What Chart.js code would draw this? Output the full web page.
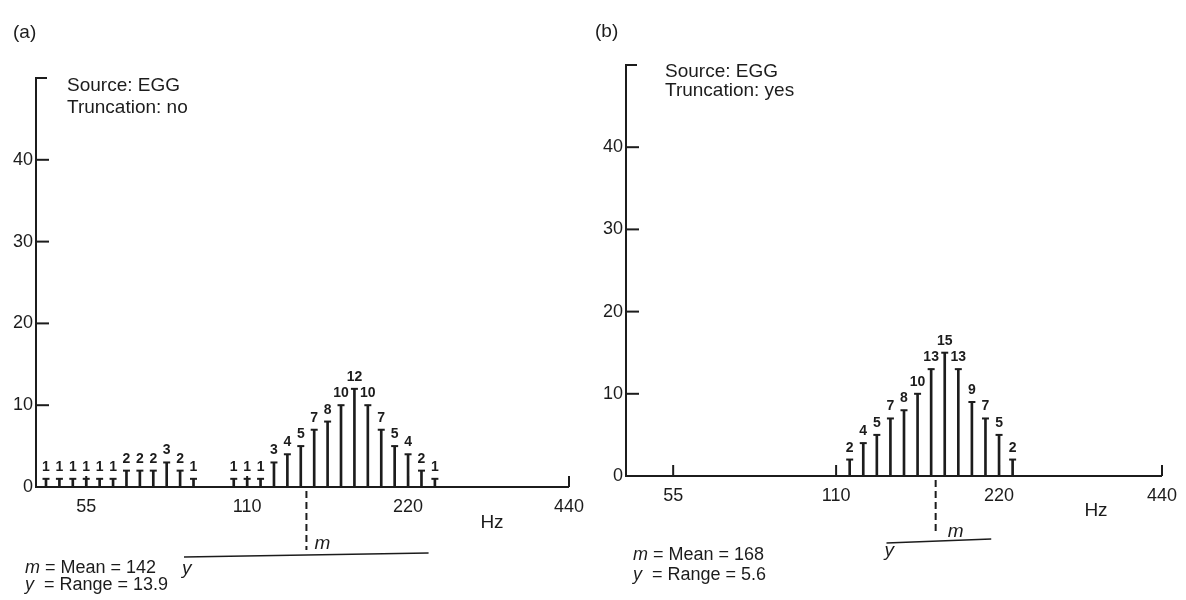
<!DOCTYPE html>
<html>
<head>
<meta charset="utf-8">
<script src="https://cdn.jsdelivr.net/npm/chart.js@4.4.0/dist/chart.umd.min.js"></script>
<style>
  html, body { margin: 0; padding: 0; background: #fff; }
  #wrap { position: relative; width: 1186px; height: 600px; }
  .panel { position: absolute; top: 0; width: 593px; height: 600px; }
  #panel-a { left: 0; }
  #panel-b { left: 593px; }
</style>
</head>
<body>
<div id="wrap">
  <div class="panel" id="panel-a"><canvas id="chart-a" width="593" height="600"></canvas></div>
  <div class="panel" id="panel-b"><canvas id="chart-b" width="593" height="600"></canvas></div>
</div>
<script>
/* ---- data: semitone bins (Hz) and % of samples ---- */
const binsA = [46.25, 49.0, 51.91, 55, 58.27, 61.74, 65.41, 69.3, 73.42, 77.78, 82.41, 87.31,
               103.83, 110, 116.54, 123.47, 130.81, 138.59, 146.83, 155.56, 164.81, 174.61,
               185, 196, 207.65, 220, 233.08, 246.94];
const valuesA = [1, 1, 1, 1, 1, 1, 2, 2, 2, 3, 2, 1,
                 1, 1, 1, 3, 4, 5, 7, 8, 10, 12, 10, 7, 5, 4, 2, 1];

const binsB = [116.54, 123.47, 130.81, 138.59, 146.83, 155.56, 164.81, 174.61,
               185, 196, 207.65, 220, 233.08];
const valuesB = [2, 4, 5, 7, 8, 10, 13, 15, 13, 9, 7, 5, 2];

const yTicks = [0, 10, 20, 30, 40];
const hzTicks = [55, 110, 220, 440];

const meanA = 142, rangeA = 13.9, spanA = [83.8, 240.3];
const meanB = 168, rangeB = 5.6,  spanB = [136.3, 212.8];

const INK = '#1c1c1c';
const FONT = "'Liberation Sans', Arial, Helvetica, sans-serif";

document.addEventListener('DOMContentLoaded', () => {
  makePanel('chart-a', {
    tag: '(a)', truncation: 'no', bins: binsA, values: valuesA,
    mean: meanA, range: rangeA, span: spanA,
    xMin: 44.3, yW: 36, pad: { left: 0, top: 78, right: 17, bottom: 83 },
    txt: { tag: [13, 38], src: [67, 91], trunc: [67, 113], hz: [492, 528],
           mLine: [25, 573], yLine: [25, 590] },
    meanLen: 63, spanDy: 68, mLabel: [8, 62], yLabel: [-2, 87],
  });
  makePanel('chart-b', {
    tag: '(b)', truncation: 'yes', bins: binsB, values: valuesB,
    mean: meanB, range: rangeB, span: spanB,
    xMin: 45.0, yW: 33, pad: { left: 0, top: 65, right: 14, bottom: 94 },
    txt: { tag: [2, 37], src: [72, 77], trunc: [72, 96], hz: [503, 516],
           mLine: [40, 560], yLine: [40, 580] },
    meanLen: 59, spanDy: 65, mLabel: [12, 61], yLabel: [-2, 80],
  });
});

/* ---- one histogram panel ---- */
function makePanel(id, p) {
  const pts = p.bins.map((f, i) => ({ x: f, y: p.values[i] }));

  function line(ctx, x1, y1, x2, y2) {
    ctx.beginPath(); ctx.moveTo(x1, y1); ctx.lineTo(x2, y2); ctx.stroke();
  }

  // axes, inner ticks, value labels, mean / range markers and notes
  const overlay = {
    id: 'overlay',
    afterDatasetsDraw(chart) {
      const { ctx, chartArea: a, scales: { x, y } } = chart;
      const right = x.getPixelForValue(hzTicks[hzTicks.length - 1]);
      ctx.save();
      ctx.strokeStyle = INK;
      ctx.fillStyle = INK;
      ctx.lineWidth = 2;

      ctx.beginPath();
      ctx.moveTo(a.left + 11, a.top);
      ctx.lineTo(a.left, a.top);
      ctx.lineTo(a.left, a.bottom);
      ctx.lineTo(right, a.bottom);
      ctx.stroke();
      yTicks.slice(1).forEach(v => {
        const py = y.getPixelForValue(v);
        line(ctx, a.left, py, a.left + 13, py);
      });
      hzTicks.forEach(v => {
        const px = x.getPixelForValue(v);
        line(ctx, px, a.bottom, px, a.bottom - 11);
      });

      // percentages over the bars
      ctx.font = `bold 14px ${FONT}`;
      ctx.textAlign = 'center';
      ctx.textBaseline = 'alphabetic';
      chart.getDatasetMeta(0).data.forEach((bar, i) => {
        ctx.fillText(String(p.values[i]), bar.x, bar.y - 8);
      });

      // mean marker
      const mx = x.getPixelForValue(p.mean);
      ctx.lineWidth = 2;
      ctx.setLineDash([7, 4]);
      line(ctx, mx, a.bottom + 4, mx, a.bottom + p.meanLen);
      ctx.setLineDash([]);
      ctx.textAlign = 'left';
      ctx.font = `italic 19px ${FONT}`;
      ctx.fillText('m', mx + p.mLabel[0], a.bottom + p.mLabel[1]);

      // range bar
      const x1 = x.getPixelForValue(p.span[0]);
      const x2 = x.getPixelForValue(p.span[1]);
      ctx.lineWidth = 1.6;
      line(ctx, x1, a.bottom + p.spanDy + 2, x2, a.bottom + p.spanDy - 2);
      ctx.fillText('y', x1 + p.yLabel[0], a.bottom + p.yLabel[1]);

      // notes
      const t = p.txt;
      ctx.font = `19px ${FONT}`;
      ctx.fillText(p.tag, t.tag[0], t.tag[1]);
      ctx.fillText('Source: EGG', t.src[0], t.src[1]);
      ctx.fillText('Truncation: ' + p.truncation, t.trunc[0], t.trunc[1]);
      ctx.textAlign = 'center';
      ctx.fillText('Hz', t.hz[0], t.hz[1]);

      ctx.textAlign = 'left';
      const stat = (sym, rest, pos) => {
        ctx.font = `italic 18px ${FONT}`;
        ctx.fillText(sym, pos[0], pos[1]);
        const w = ctx.measureText(sym).width;
        ctx.font = `18px ${FONT}`;
        ctx.fillText(rest, pos[0] + w, pos[1]);
      };
      stat('m', ' = Mean = ' + p.mean, t.mLine);
      stat('y', '  = Range = ' + p.range, t.yLine);
      ctx.restore();
    }
  };

  new Chart(document.getElementById(id), {
    type: 'bar',
    data: {
      datasets: [
        {
          type: 'bar', data: pts, backgroundColor: INK,
          barThickness: 2, borderWidth: 0, order: 2,
        },
        {
          type: 'scatter', data: pts, pointStyle: 'line', pointRadius: 3.5,
          borderColor: INK, borderWidth: 2, showLine: false, order: 1,
        },
      ],
    },
    options: {
      responsive: false,
      animation: false,
      layout: { padding: p.pad },
      plugins: { legend: { display: false }, tooltip: { enabled: false } },
      scales: {
        x: {
          type: 'logarithmic', min: p.xMin, max: 440, offset: false,
          grid: { display: false, drawTicks: false }, border: { display: false },
          afterBuildTicks: s => { s.ticks = hzTicks.map(v => ({ value: v })); },
          afterFit: s => { s.height = 30; },
          ticks: {
            autoSkip: false, maxRotation: 0, padding: 9, color: INK,
            font: { family: FONT, size: 18 },
            callback: v => String(v),
          },
        },
        y: {
          min: 0, max: 50,
          grid: { display: false, drawTicks: false }, border: { display: false },
          afterBuildTicks: s => { s.ticks = yTicks.map(v => ({ value: v })); },
          afterFit: s => { s.width = p.yW; },
          ticks: { padding: 3, color: INK, font: { family: FONT, size: 18 } },
        },
      },
    },
    plugins: [overlay],
  });
}
</script>
</body>
</html>
